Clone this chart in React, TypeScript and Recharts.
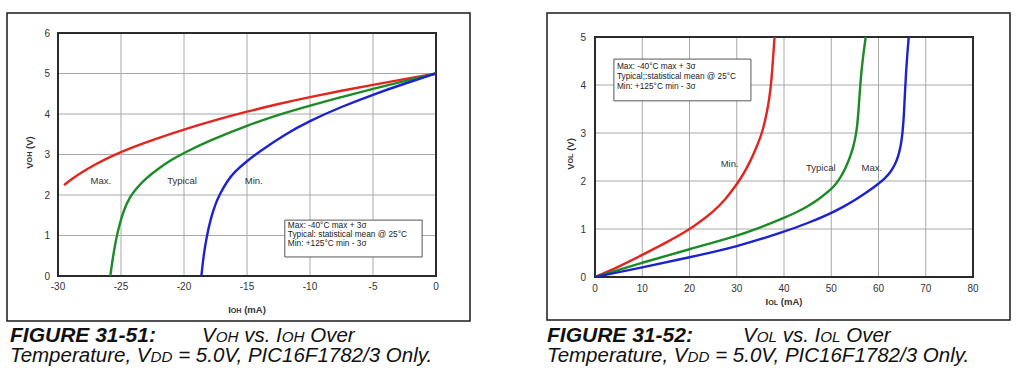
import React from 'react';
import { LineChart, Line, XAxis, YAxis, CartesianGrid, ReferenceArea, ReferenceDot } from 'recharts';

const FONT = 'Arial, "Liberation Sans", Helvetica, sans-serif';

// ---- Figure 31-51: VOH vs IOH ----
const vohTicksX = [-30, -25, -20, -15, -10, -5, 0];
const vohTicksY = [0, 1, 2, 3, 4, 5, 6];
const vohMaxI = [-29.52, -29, -28, -27, -26, -25, -24, -22.5, -20, -17.5, -15, -12.5, -10, -7.5, -5, -2.5, 0];
const vohMaxV = [2.245, 2.375, 2.585, 2.765, 2.92, 3.06, 3.185, 3.36, 3.62, 3.85, 4.06, 4.25, 4.42, 4.575, 4.72, 4.86, 5.0];
const vohTypI = [-25.85, -25.65, -25.4, -25.1, -24.75, -24.3, -23.8, -23, -22, -21, -20, -18, -15, -12, -10, -7.5, -5, -2.5, 0];
const vohTypV = [0, 0.45, 0.9, 1.3, 1.65, 1.95, 2.16, 2.42, 2.66, 2.87, 3.04, 3.34, 3.72, 4.03, 4.21, 4.42, 4.62, 4.81, 5.0];
const vohMinI = [-18.62, -18.45, -18.2, -17.9, -17.55, -17.2, -16.6, -16, -15, -14, -12, -10, -7.5, -5, -2.5, 0];
const vohMinV = [0, 0.5, 0.97, 1.39, 1.74, 2.0, 2.33, 2.57, 2.84, 3.075, 3.495, 3.835, 4.18, 4.48, 4.75, 5.0];

// ---- Figure 31-52: VOL vs IOL ----
const volTicksX = [0, 10, 20, 30, 40, 50, 60, 70, 80];
const volTicksY = [0, 1, 2, 3, 4, 5];
const volMinI = [0, 5, 10, 15, 20, 22.5, 25, 27.5, 30, 31, 32, 33, 34, 35, 35.5, 36.3, 36.9, 37.3, 37.65, 38.0];
const volMinV = [0, 0.21, 0.46, 0.71, 0.99, 1.17, 1.36, 1.6, 1.93, 2.08, 2.25, 2.44, 2.66, 2.91, 3.06, 3.38, 3.72, 4.05, 4.5, 5.0];
const volTypI = [0, 10, 20, 30, 35, 40, 42.5, 45, 47.5, 50, 51, 52, 53, 54, 54.7, 55.2, 55.5, 55.8, 56.1, 56.4, 56.8, 57.3];
const volTypV = [0, 0.3, 0.58, 0.85, 1.03, 1.23, 1.34, 1.47, 1.63, 1.83, 1.94, 2.08, 2.26, 2.5, 2.72, 2.95, 3.15, 3.5, 3.95, 4.3, 4.65, 5.0];
const volMaxI = [0, 10, 20, 30, 40, 45, 50, 52.5, 55, 57.5, 60, 61.5, 62.5, 63.5, 64.2, 64.7, 65.1, 65.4, 65.6, 65.85, 66.1, 66.4];
const volMaxV = [0, 0.2, 0.41, 0.63, 0.94, 1.12, 1.33, 1.46, 1.6, 1.76, 1.94, 2.07, 2.18, 2.34, 2.52, 2.72, 3.0, 3.4, 3.85, 4.3, 4.65, 5.0];

const legendLines1 = ['Max: -40°C max + 3σ', 'Typical: statistical mean @ 25°C', 'Min: +125°C min - 3σ'];
const legendLines2 = ['Max: -40°C max + 3σ', 'Typical;:statistical mean @ 25°C', 'Min: +125°C min - 3σ'];

const RED = '#e3241f';
const GREEN = '#1b8a27';
const BLUE = '#1c22cf';
const GRID = '#a8a8a8';

const toPts = (xs: number[], ys: number[]) => xs.map((x, i) => ({ x, y: ys[i] }));

const LegendText = (props: any) => {
  const { viewBox, lines, offsets } = props;
  if (!viewBox) return null;
  return (
    <text fontFamily={FONT} fontSize={8.3} fill="#222">
      {lines.map((l: string, i: number) => (
        <tspan key={i} x={viewBox.x + 3} y={viewBox.y + offsets[i]}>{l}</tspan>
      ))}
    </text>
  );
};

const Tag = (props: any) => {
  const { viewBox, text } = props;
  if (!viewBox) return null;
  const cx = viewBox.x + (viewBox.width || 0) / 2;
  const cy = viewBox.y + (viewBox.height || 0) / 2;
  return (
    <text x={cx} y={cy} textAnchor="middle" dominantBaseline="central" fontFamily={FONT} fontSize={9.5} fill="#333">
      {text}
    </text>
  );
};

const XTitle = (props: any) => {
  const { viewBox, main, sub, dy } = props;
  if (!viewBox) return null;
  return (
    <text x={viewBox.x + viewBox.width / 2} y={viewBox.y + dy} textAnchor="middle" fontFamily={FONT} fontSize={9.5} fontWeight="bold" fill="#333">
      {main}
      <tspan fontSize={7.2}>{sub}</tspan>
      <tspan>{' (mA)'}</tspan>
    </text>
  );
};

const YTitle = (props: any) => {
  const { viewBox, main, sub, cxPos, dyc } = props;
  if (!viewBox) return null;
  const x = cxPos;
  const y = viewBox.y + viewBox.height / 2 + dyc;
  return (
    <text x={x} y={y} transform={`rotate(-90 ${x} ${y})`} textAnchor="middle" dominantBaseline="central" fontFamily={FONT} fontSize={9.5} fontWeight="bold" fill="#333">
      {main}
      <tspan fontSize={7.2}>{sub}</tspan>
      <tspan>{' (V)'}</tspan>
    </text>
  );
};

const tickStyle = { fontFamily: FONT, fontSize: 10, fill: '#333' };
const CURVE = 'basis' as const;

const App = () => {
  const vohMax = toPts(vohMaxI, vohMaxV);
  const vohTyp = toPts(vohTypI, vohTypV);
  const vohMin = toPts(vohMinI, vohMinV);
  const volMin = toPts(volMinI, volMinV);
  const volTyp = toPts(volTypI, volTypV);
  const volMax = toPts(volMaxI, volMaxV);
  const cap = 20.5;
  const small = 15.2;

  return (
    <div style={{ position: 'fixed', left: 0, top: 0, width: 1024, height: 377, background: '#fff', overflow: 'hidden' }}>
      <svg width={1024} height={377} style={{ position: 'absolute', left: 0, top: 0 }}>
        <rect x={7} y={13} width={463} height={308} fill="#fff" stroke="#1a1a1a" strokeWidth={1.5} />
        <rect x={547} y={13} width={463} height={307} fill="#fff" stroke="#1a1a1a" strokeWidth={1.5} />
        <text x={10} y={342} fontFamily={FONT} fontSize={cap} fontStyle="italic" fill="#111">
          <tspan fontWeight="bold" fontSize={21}>FIGURE 31-51:</tspan>
          <tspan x={202}>V</tspan>
          <tspan fontSize={small}>OH</tspan>
          <tspan>{' vs. I'}</tspan>
          <tspan fontSize={small}>OH</tspan>
          <tspan>{' Over'}</tspan>
        </text>
        <text x={10} y={362} fontFamily={FONT} fontSize={cap} fontStyle="italic" fill="#111">
          <tspan>{'Temperature, V'}</tspan>
          <tspan fontSize={small}>DD</tspan>
          <tspan>{' = 5.0V, PIC16F1782/3 Only.'}</tspan>
        </text>
        <text x={547} y={342} fontFamily={FONT} fontSize={cap} fontStyle="italic" fill="#111">
          <tspan fontWeight="bold" fontSize={21}>FIGURE 31-52:</tspan>
          <tspan x={743}>V</tspan>
          <tspan fontSize={small}>OL</tspan>
          <tspan>{' vs. I'}</tspan>
          <tspan fontSize={small}>OL</tspan>
          <tspan>{' Over'}</tspan>
        </text>
        <text x={547} y={362} fontFamily={FONT} fontSize={cap} fontStyle="italic" fill="#111">
          <tspan>{'Temperature, V'}</tspan>
          <tspan fontSize={small}>DD</tspan>
          <tspan>{' = 5.0V, PIC16F1782/3 Only.'}</tspan>
        </text>
      </svg>

      <div style={{ position: 'absolute', left: 0, top: 0 }}>
        <LineChart width={470} height={320} margin={{ top: 33, right: 34, bottom: 0, left: 0 }}>
          <CartesianGrid stroke={GRID} strokeWidth={1} />
          <XAxis
            dataKey="x"
            type="number"
            domain={[-30, 0]}
            ticks={vohTicksX}
            interval={0}
            allowDataOverflow
            height={44}
            axisLine={false}
            tickLine={false}
            tickSize={0}
            tickMargin={7}
            tick={tickStyle}
            label={<XTitle main="I" sub="OH" dy={37} />}
          />
          <YAxis
            dataKey="y"
            type="number"
            domain={[0, 6]}
            ticks={vohTicksY}
            interval={0}
            allowDataOverflow
            width={58}
            axisLine={false}
            tickLine={false}
            tickSize={0}
            tickMargin={8}
            tick={tickStyle}
            label={<YTitle main="V" sub="OH" cxPos={29} dyc={-2} />}
          />
          <ReferenceArea
            x1={-12.0}
            x2={-1.1}
            y1={0.47}
            y2={1.38}
            fill="#fff"
            fillOpacity={1}
            stroke="#555"
            strokeWidth={1}
            label={<LegendText lines={legendLines1} offsets={[8, 17, 26]} />}
          />
          <Line data={vohMax} dataKey="y" type={CURVE} stroke={RED} strokeWidth={2.4} dot={false} isAnimationActive={false} />
          <Line data={vohTyp} dataKey="y" type={CURVE} stroke={GREEN} strokeWidth={2.4} dot={false} isAnimationActive={false} />
          <Line data={vohMin} dataKey="y" type={CURVE} stroke={BLUE} strokeWidth={2.4} dot={false} isAnimationActive={false} />
          <ReferenceDot x={-26.6} y={2.37} r={0} fill="none" stroke="none" label={<Tag text="Max." />} />
          <ReferenceDot x={-20.15} y={2.37} r={0} fill="none" stroke="none" label={<Tag text="Typical" />} />
          <ReferenceDot x={-14.46} y={2.37} r={0} fill="none" stroke="none" label={<Tag text="Min." />} />
          <ReferenceArea x1={-30} x2={0} y1={0} y2={6} fill="none" stroke="#2a2a2a" strokeWidth={2} />
        </LineChart>
      </div>

      <div style={{ position: 'absolute', left: 540, top: 0 }}>
        <LineChart width={470} height={320} margin={{ top: 37, right: 37, bottom: 0, left: 0 }}>
          <CartesianGrid stroke={GRID} strokeWidth={1} />
          <XAxis
            dataKey="x"
            type="number"
            domain={[0, 80]}
            ticks={volTicksX}
            interval={0}
            allowDataOverflow
            height={43}
            axisLine={false}
            tickLine={false}
            tickSize={0}
            tickMargin={8}
            tick={tickStyle}
            label={<XTitle main="I" sub="OL" dy={28} />}
          />
          <YAxis
            dataKey="y"
            type="number"
            domain={[0, 5]}
            ticks={volTicksY}
            interval={0}
            allowDataOverflow
            width={55}
            axisLine={false}
            tickLine={false}
            tickSize={0}
            tickMargin={9}
            tick={tickStyle}
            label={<YTitle main="V" sub="OL" cxPos={30} dyc={-3} />}
          />
          <ReferenceArea
            x1={4.0}
            x2={33.0}
            y1={3.67}
            y2={4.54}
            fill="#fff"
            fillOpacity={1}
            stroke="#555"
            strokeWidth={1}
            label={<LegendText lines={legendLines2} offsets={[10, 20, 30]} />}
          />
          <Line data={volMin} dataKey="y" type={CURVE} stroke={RED} strokeWidth={2.4} dot={false} isAnimationActive={false} />
          <Line data={volTyp} dataKey="y" type={CURVE} stroke={GREEN} strokeWidth={2.4} dot={false} isAnimationActive={false} />
          <Line data={volMax} dataKey="y" type={CURVE} stroke={BLUE} strokeWidth={2.4} dot={false} isAnimationActive={false} />
          <ReferenceDot x={28.5} y={2.36} r={0} fill="none" stroke="none" label={<Tag text="Min." />} />
          <ReferenceDot x={47.8} y={2.29} r={0} fill="none" stroke="none" label={<Tag text="Typical" />} />
          <ReferenceDot x={58.6} y={2.28} r={0} fill="none" stroke="none" label={<Tag text="Max." />} />
          <ReferenceArea x1={0} x2={80} y1={0} y2={5} fill="none" stroke="#2a2a2a" strokeWidth={2} />
        </LineChart>
      </div>
    </div>
  );
};

export default App;
